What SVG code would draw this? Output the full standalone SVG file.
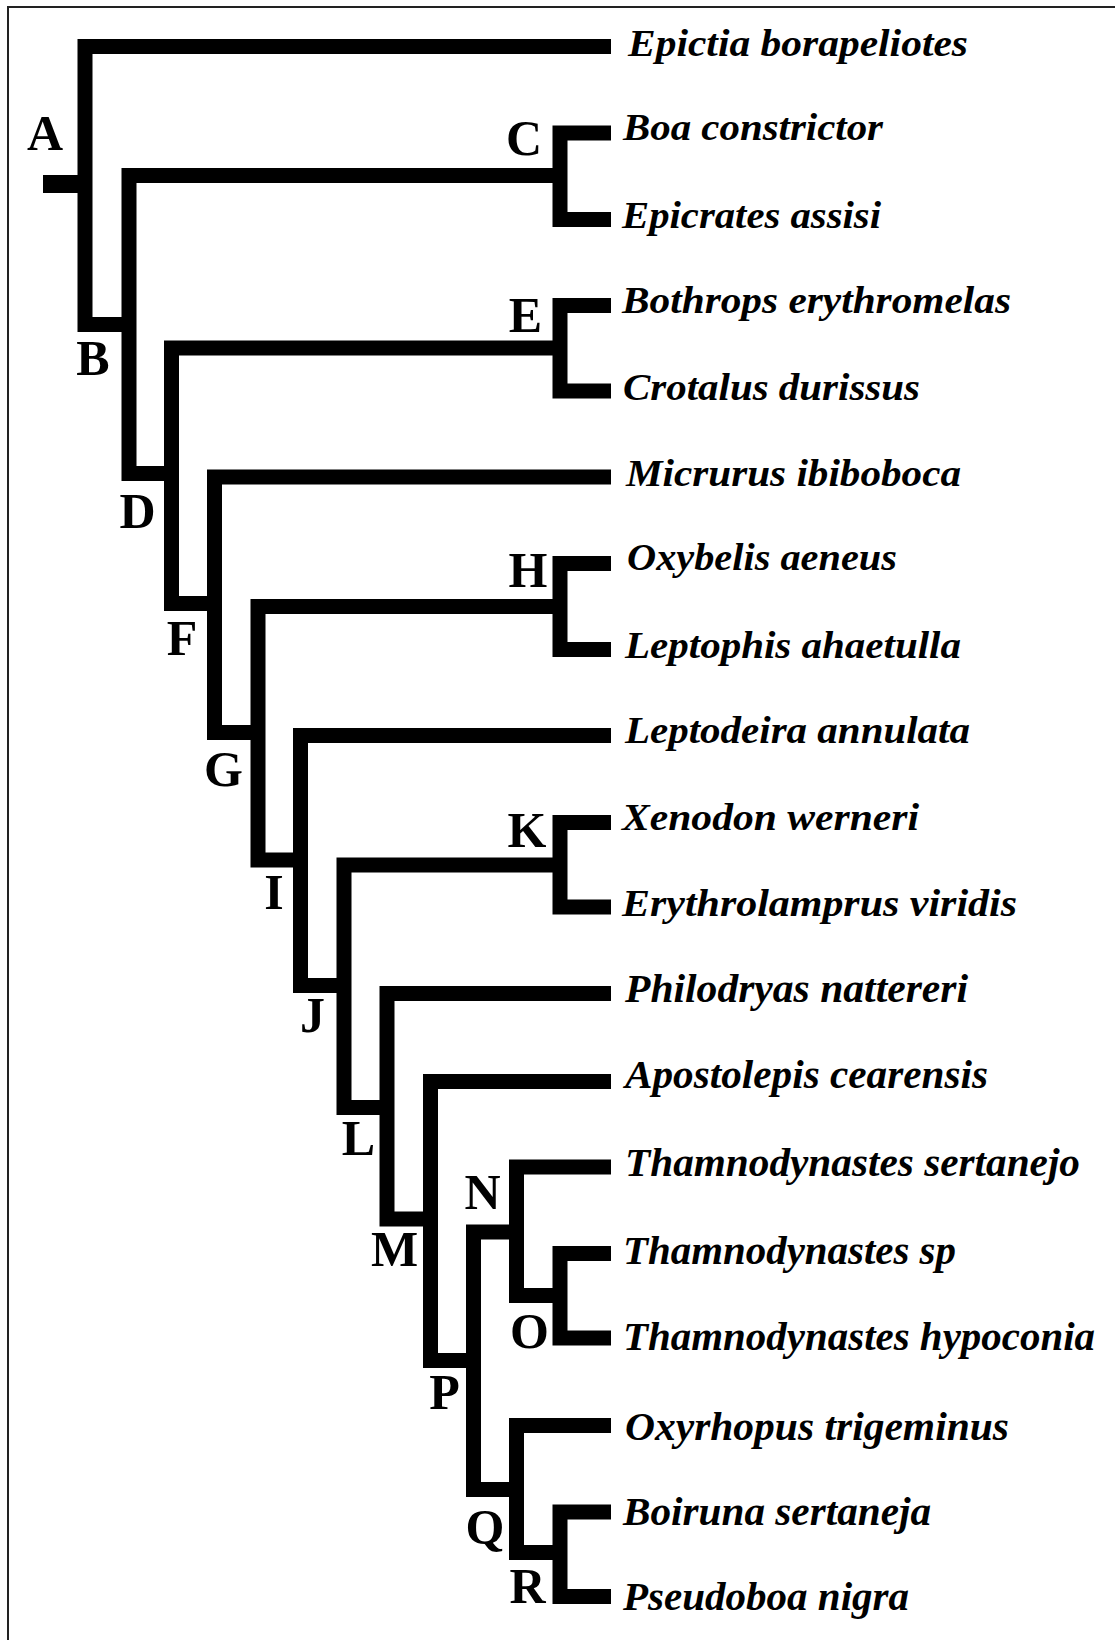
<svg xmlns="http://www.w3.org/2000/svg" width="1115" height="1640" viewBox="0 0 1115 1640">
<style>
.br{fill:none;stroke:#000;stroke-width:15;stroke-linejoin:miter;stroke-linecap:butt}
.lb{font-family:"Liberation Serif","Times New Roman",serif;font-weight:bold;font-size:50px;fill:#000;text-anchor:middle}
.sp{font-family:"Liberation Serif","Times New Roman",serif;font-weight:bold;font-style:italic;font-size:37px;fill:#000}
.sl{font-size:39px}
</style>
<rect x="0" y="0" width="1115" height="1640" fill="#fff"/>
<g id="frame">
<line x1="8" y1="6" x2="8" y2="1640" stroke="#222" stroke-width="2"/>
<line x1="7" y1="7" x2="1115" y2="7" stroke="#222" stroke-width="2"/>
</g>
<g id="connectors">
<rect x="43" y="175" width="42" height="18" fill="#000"/>
<path class="br" d="M611,46.5 H85 V324.5 H129"/>
<path class="br" d="M560,175.5 H129 V473.5 H171.5"/>
<path class="br" d="M611,133 H560 V219.5 H611"/>
<path class="br" d="M560,348 H171.5 V603.5 H214.5"/>
<path class="br" d="M611,305.5 H560 V391 H611"/>
<path class="br" d="M611,477 H214.5 V732.5 H258"/>
<path class="br" d="M560,606.5 H258 V860 H300.5"/>
<path class="br" d="M611,563.5 H560 V649.5 H611"/>
<path class="br" d="M611,735.5 H300.5 V985.5 H344"/>
<path class="br" d="M560,865 H344 V1107.5 H387"/>
<path class="br" d="M611,822.5 H560 V907 H611"/>
<path class="br" d="M611,993.5 H387 V1219 H430.5"/>
<path class="br" d="M611,1081.5 H430.5 V1360.5 H473.5"/>
<path class="br" d="M516.5,1232 H473.5 V1489.5 H516.5"/>
<path class="br" d="M611,1167 H516.5 V1295.5 H560"/>
<path class="br" d="M611,1253.5 H560 V1338 H611"/>
<path class="br" d="M611,1425.5 H516.5 V1552.5 H560"/>
<path class="br" d="M611,1512 H560 V1596.5 H611"/>
</g>
<g id="node-A"><text class="lb" x="45" y="150">A</text></g>
<g id="node-B"><text class="lb" x="93" y="375">B</text></g>
<g id="node-C"><text class="lb" x="524" y="155">C</text></g>
<g id="node-D"><text class="lb" x="137.5" y="528">D</text></g>
<g id="node-E"><text class="lb" x="525.5" y="332">E</text></g>
<g id="node-F"><text class="lb" x="182" y="655">F</text></g>
<g id="node-G"><text class="lb" x="223.5" y="786">G</text></g>
<g id="node-H"><text class="lb" x="528" y="587">H</text></g>
<g id="node-I"><text class="lb" x="274" y="909">I</text></g>
<g id="node-J"><text class="lb" x="312.5" y="1032">J</text></g>
<g id="node-K"><text class="lb" x="527" y="847">K</text></g>
<g id="node-L"><text class="lb" x="358.5" y="1155">L</text></g>
<g id="node-M"><text class="lb" x="394.5" y="1266">M</text></g>
<g id="node-N"><text class="lb" x="482.5" y="1209">N</text></g>
<g id="node-O"><text class="lb" x="529.5" y="1348">O</text></g>
<g id="node-P"><text class="lb" x="444.5" y="1409">P</text></g>
<g id="node-Q"><text class="lb" x="485" y="1544">Q</text></g>
<g id="node-R"><text class="lb" x="527.5" y="1603">R</text></g>
<g id="taxon-1"><text class="sp" x="628" y="56" textLength="340" lengthAdjust="spacingAndGlyphs">Epictia borapeliotes</text></g>
<g id="taxon-2"><text class="sp" x="623" y="140" textLength="260" lengthAdjust="spacingAndGlyphs">Boa constrictor</text></g>
<g id="taxon-3"><text class="sp" x="622" y="228" textLength="259" lengthAdjust="spacingAndGlyphs">Epicrates assisi</text></g>
<g id="taxon-4"><text class="sp" x="622" y="313" textLength="389" lengthAdjust="spacingAndGlyphs">Bothrops erythromelas</text></g>
<g id="taxon-5"><text class="sp" x="623" y="400" textLength="297" lengthAdjust="spacingAndGlyphs">Crotalus durissus</text></g>
<g id="taxon-6"><text class="sp" x="626" y="486" textLength="335" lengthAdjust="spacingAndGlyphs">Micrurus ibiboboca</text></g>
<g id="taxon-7"><text class="sp" x="627" y="570" textLength="270" lengthAdjust="spacingAndGlyphs">Oxybelis aeneus</text></g>
<g id="taxon-8"><text class="sp" x="625" y="658" textLength="336" lengthAdjust="spacingAndGlyphs">Leptophis ahaetulla</text></g>
<g id="taxon-9"><text class="sp" x="625" y="743" textLength="345" lengthAdjust="spacingAndGlyphs">Leptodeira annulata</text></g>
<g id="taxon-10"><text class="sp" x="622" y="830" textLength="297" lengthAdjust="spacingAndGlyphs">Xenodon werneri</text></g>
<g id="taxon-11"><text class="sp" x="622" y="916" textLength="395" lengthAdjust="spacingAndGlyphs">Erythrolamprus viridis</text></g>
<g id="taxon-12"><text class="sp sl" x="625" y="1002" textLength="343" lengthAdjust="spacingAndGlyphs">Philodryas nattereri</text></g>
<g id="taxon-13"><text class="sp sl" x="625" y="1088" textLength="363" lengthAdjust="spacingAndGlyphs">Apostolepis cearensis</text></g>
<g id="taxon-14"><text class="sp sl" x="625" y="1176" textLength="455" lengthAdjust="spacingAndGlyphs">Thamnodynastes sertanejo</text></g>
<g id="taxon-15"><text class="sp sl" x="623" y="1264" textLength="333" lengthAdjust="spacingAndGlyphs">Thamnodynastes sp</text></g>
<g id="taxon-16"><text class="sp sl" x="623" y="1350" textLength="472" lengthAdjust="spacingAndGlyphs">Thamnodynastes hypoconia</text></g>
<g id="taxon-17"><text class="sp sl" x="625" y="1440" textLength="384" lengthAdjust="spacingAndGlyphs">Oxyrhopus trigeminus</text></g>
<g id="taxon-18"><text class="sp sl" x="623" y="1525" textLength="308" lengthAdjust="spacingAndGlyphs">Boiruna sertaneja</text></g>
<g id="taxon-19"><text class="sp sl" x="623" y="1610" textLength="286" lengthAdjust="spacingAndGlyphs">Pseudoboa nigra</text></g>
</svg>
